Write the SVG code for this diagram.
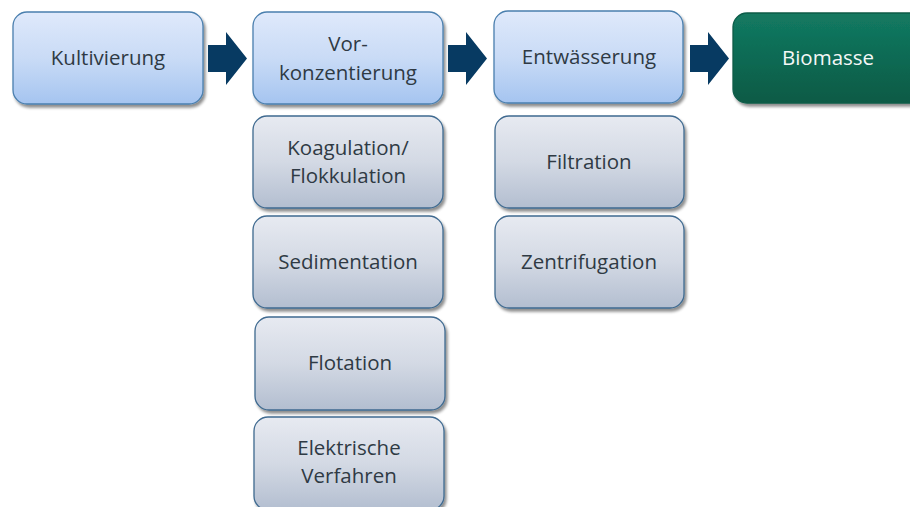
<svg xmlns="http://www.w3.org/2000/svg" width="910" height="507" viewBox="0 0 910 507">
  <defs>
    <linearGradient id="gBlue" x1="0" y1="0" x2="0" y2="1">
      <stop offset="0" stop-color="#dfe9fb"/>
      <stop offset="0.5" stop-color="#c9dbf6"/>
      <stop offset="1" stop-color="#a5c4f0"/>
    </linearGradient>
    <linearGradient id="gGray" x1="0" y1="0" x2="0" y2="1">
      <stop offset="0" stop-color="#e7eaf1"/>
      <stop offset="0.5" stop-color="#d3d9e4"/>
      <stop offset="1" stop-color="#b3bed0"/>
    </linearGradient>
    <linearGradient id="gGreen" x1="0" y1="0" x2="0" y2="1">
      <stop offset="0" stop-color="#137a62"/>
      <stop offset="1" stop-color="#085a45"/>
    </linearGradient>
    <filter id="shadow" x="-10%" y="-10%" width="125%" height="130%">
      <feGaussianBlur in="SourceAlpha" stdDeviation="1.6"/>
      <feOffset dx="2" dy="2.5" result="b"/>
      <feComponentTransfer><feFuncA type="linear" slope="0.45"/></feComponentTransfer>
      <feMerge><feMergeNode/><feMergeNode in="SourceGraphic"/></feMerge>
    </filter>
    <path id="arrow" d="M0,33 H18 V20 L39,46.5 L18,73 V60 H0 Z"/>
  </defs>
  <style>
    .box { stroke-width: 1.3; filter: url(#shadow); }
    .blue { fill: url(#gBlue); stroke: #4a7fae; }
    .gray { fill: url(#gGray); stroke: #3f6a90; }
    .green { fill: url(#gGreen); stroke: #0b5c48; }
    .lbl { font-family: "Open Sans", "Liberation Sans", sans-serif; font-size: 20.5px; fill: #2f3a44; text-anchor: middle; }
    .lbl-w { fill: #f4f7f6; }
    .arr { fill: #073a62; }
  </style>

  <!-- flow arrows between the main stages -->
  <g id="connectors">
    <use href="#arrow" class="arr" transform="translate(208,12)"/>
    <use href="#arrow" class="arr" transform="translate(448,12)"/>
    <use href="#arrow" class="arr" transform="translate(690,12)"/>
  </g>

  <!-- main process stages -->
  <g id="kultivierung">
    <rect class="box blue" x="13" y="12" width="190" height="92" rx="14"/>
    <text class="lbl" x="108" y="65">Kultivierung</text>
  </g>
  <g id="vorkonzentierung">
    <rect class="box blue" x="253" y="12" width="190" height="92" rx="14"/>
    <text class="lbl" x="348" y="51">Vor-</text>
    <text class="lbl" x="348" y="80">konzentierung</text>
  </g>
  <g id="entwaesserung">
    <rect class="box blue" x="494" y="11" width="189" height="92" rx="14"/>
    <text class="lbl" x="589" y="64">Entwässerung</text>
  </g>
  <g id="biomasse">
    <rect class="box green" x="733" y="13" width="200" height="90" rx="14"/>
    <text class="lbl lbl-w" x="828" y="65">Biomasse</text>
  </g>

  <!-- pre-concentration methods -->
  <g id="koagulation">
    <rect class="box gray" x="253" y="116" width="190" height="92" rx="14"/>
    <text class="lbl" x="348" y="155">Koagulation/</text>
    <text class="lbl" x="348" y="183">Flokkulation</text>
  </g>
  <g id="sedimentation">
    <rect class="box gray" x="253" y="216" width="190" height="92" rx="14"/>
    <text class="lbl" x="348" y="269">Sedimentation</text>
  </g>
  <g id="flotation">
    <rect class="box gray" x="255" y="317" width="190" height="93" rx="14"/>
    <text class="lbl" x="350" y="370">Flotation</text>
  </g>
  <g id="elektrische-verfahren">
    <rect class="box gray" x="254" y="417" width="190" height="93" rx="14"/>
    <text class="lbl" x="349" y="455">Elektrische</text>
    <text class="lbl" x="349" y="483">Verfahren</text>
  </g>

  <!-- dewatering methods -->
  <g id="filtration">
    <rect class="box gray" x="495" y="116" width="189" height="92" rx="14"/>
    <text class="lbl" x="589" y="169">Filtration</text>
  </g>
  <g id="zentrifugation">
    <rect class="box gray" x="495" y="216" width="189" height="92" rx="14"/>
    <text class="lbl" x="589" y="269">Zentrifugation</text>
  </g>
</svg>
